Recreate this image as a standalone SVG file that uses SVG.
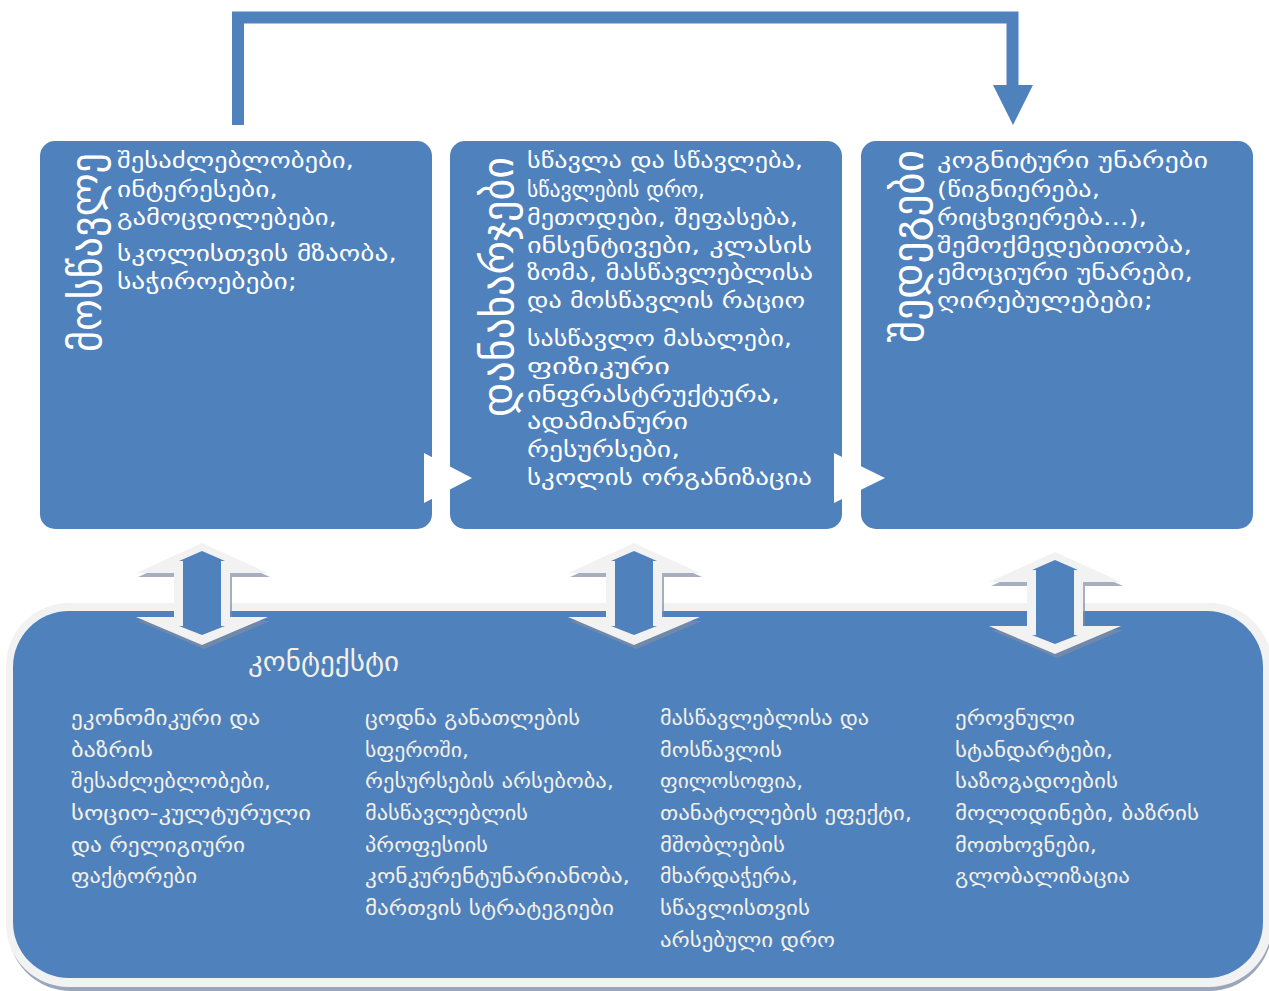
<svg xmlns="http://www.w3.org/2000/svg" xmlns:xlink="http://www.w3.org/1999/xlink" width="1269" height="991" viewBox="0 0 1269 991">
<style>
.box{fill:#4F81BD}
.t{font-family:"DejaVu Sans",sans-serif;font-size:22px;fill:#FFFFFF}
.ttl{font-family:"DejaVu Sans",sans-serif;font-size:44px;fill:#FFFFFF}
.b{font-family:"DejaVu Sans",sans-serif;font-size:20px;fill:#F3F0E6}
.bt{font-family:"DejaVu Sans",sans-serif;font-size:27px;fill:#F3F0E6}
.conn{fill:none;stroke:#4F81BD;stroke-width:12;stroke-linejoin:miter}
</style>
<defs>
<g id="dbl">
<polygon points="204,547 270,577 232,577 232,621 270,621 204,649 138,621 176,621 176,577 138,577" fill="#7F8DA4" opacity="0.7"/>
<polygon points="202,543 268,573 230,573 230,617 268,617 202,645 136,617 174,617 174,573 136,573" fill="#F2F2F2"/>
<polygon points="202,551 225,561 221,561 221,626 225,626 202,635 179,626 183,626 183,561 179,561" fill="#4F81BD"/>
</g>
</defs>
<rect width="1269" height="991" fill="#FFFFFF"/>

<g id="node-student">
<rect class="box" x="40" y="141" width="392" height="388" rx="15"/>
<text class="ttl" transform="translate(101,352) rotate(-90)" textLength="199" lengthAdjust="spacingAndGlyphs">მოსწავლე</text>
<text class="t" x="117" y="168" textLength="237" lengthAdjust="spacingAndGlyphs">შესაძლებლობები,</text>
<text class="t" x="117" y="197" textLength="161" lengthAdjust="spacingAndGlyphs">ინტერესები,</text>
<text class="t" x="117" y="225" textLength="220" lengthAdjust="spacingAndGlyphs">გამოცდილებები,</text>
<text class="t" x="117" y="261" textLength="280" lengthAdjust="spacingAndGlyphs">სკოლისთვის მზაობა,</text>
<text class="t" x="117" y="289" textLength="180" lengthAdjust="spacingAndGlyphs">საჭიროებები;</text>
</g>

<g id="node-costs">
<rect class="box" x="450" y="141" width="392" height="388" rx="15"/>
<text class="ttl" transform="translate(513,417) rotate(-90)" textLength="260" lengthAdjust="spacingAndGlyphs">დანახარჯები</text>
<text class="t" x="527" y="168" textLength="276" lengthAdjust="spacingAndGlyphs">სწავლა და სწავლება,</text>
<text class="t" x="527" y="197" textLength="178" lengthAdjust="spacingAndGlyphs">სწავლების დრო,</text>
<text class="t" x="527" y="225" textLength="271" lengthAdjust="spacingAndGlyphs">მეთოდები, შეფასება,</text>
<text class="t" x="527" y="253" textLength="285" lengthAdjust="spacingAndGlyphs">ინსენტივები, კლასის</text>
<text class="t" x="527" y="280" textLength="286" lengthAdjust="spacingAndGlyphs">ზომა, მასწავლებლისა</text>
<text class="t" x="527" y="308" textLength="278" lengthAdjust="spacingAndGlyphs">და მოსწავლის რაციო</text>
<text class="t" x="527" y="346" textLength="265" lengthAdjust="spacingAndGlyphs">სასწავლო მასალები,</text>
<text class="t" x="527" y="374" textLength="143" lengthAdjust="spacingAndGlyphs">ფიზიკური</text>
<text class="t" x="527" y="402" textLength="253" lengthAdjust="spacingAndGlyphs">ინფრასტრუქტურა,</text>
<text class="t" x="527" y="429" textLength="161" lengthAdjust="spacingAndGlyphs">ადამიანური</text>
<text class="t" x="527" y="457" textLength="153" lengthAdjust="spacingAndGlyphs">რესურსები,</text>
<text class="t" x="527" y="485" textLength="285" lengthAdjust="spacingAndGlyphs">სკოლის ორგანიზაცია</text>
</g>

<g id="node-results">
<rect class="box" x="861" y="141" width="392" height="388" rx="15"/>
<text class="ttl" transform="translate(923,343) rotate(-90)" textLength="193" lengthAdjust="spacingAndGlyphs">შედეგები</text>
<text class="t" x="937" y="168" textLength="271" lengthAdjust="spacingAndGlyphs">კოგნიტური უნარები</text>
<text class="t" x="937" y="197" textLength="163" lengthAdjust="spacingAndGlyphs">(წიგნიერება,</text>
<text class="t" x="937" y="225" textLength="210" lengthAdjust="spacingAndGlyphs">რიცხვიერება...),</text>
<text class="t" x="937" y="253" textLength="255" lengthAdjust="spacingAndGlyphs">შემოქმედებითობა,</text>
<text class="t" x="937" y="280" textLength="256" lengthAdjust="spacingAndGlyphs">ემოციური უნარები,</text>
<text class="t" x="937" y="308" textLength="216" lengthAdjust="spacingAndGlyphs">ღირებულებები;</text>
</g>

<g id="node-context">
<rect x="8" y="607" width="1264" height="384" rx="63" fill="#9AA6BA"/>
<rect x="6" y="603" width="1266" height="384" rx="63" fill="#F2F2F2"/>
<rect class="box" x="13" y="611" width="1250" height="367" rx="56"/>
<text class="bt" x="248" y="671" textLength="151" lengthAdjust="spacingAndGlyphs">კონტექსტი</text>
<text class="b" x="71" y="725" textLength="189" lengthAdjust="spacingAndGlyphs">ეკონომიკური და</text>
<text class="b" x="71" y="757" textLength="82" lengthAdjust="spacingAndGlyphs">ბაზრის</text>
<text class="b" x="71" y="788" textLength="200" lengthAdjust="spacingAndGlyphs">შესაძლებლობები,</text>
<text class="b" x="71" y="820" textLength="240" lengthAdjust="spacingAndGlyphs">სოციო-კულტურული</text>
<text class="b" x="71" y="852" textLength="174" lengthAdjust="spacingAndGlyphs">და რელიგიური</text>
<text class="b" x="71" y="883" textLength="126" lengthAdjust="spacingAndGlyphs">ფაქტორები</text>

<text class="b" x="365" y="725" textLength="215" lengthAdjust="spacingAndGlyphs">ცოდნა განათლების</text>
<text class="b" x="365" y="757" textLength="104" lengthAdjust="spacingAndGlyphs">სფეროში,</text>
<text class="b" x="365" y="788" textLength="249" lengthAdjust="spacingAndGlyphs">რესურსების არსებობა,</text>
<text class="b" x="365" y="820" textLength="163" lengthAdjust="spacingAndGlyphs">მასწავლებლის</text>
<text class="b" x="365" y="852" textLength="123" lengthAdjust="spacingAndGlyphs">პროფესიის</text>
<text class="b" x="365" y="883" textLength="265" lengthAdjust="spacingAndGlyphs">კონკურენტუნარიანობა,</text>
<text class="b" x="365" y="915" textLength="249" lengthAdjust="spacingAndGlyphs">მართვის სტრატეგიები</text>

<text class="b" x="660" y="725" textLength="209" lengthAdjust="spacingAndGlyphs">მასწავლებლისა და</text>
<text class="b" x="660" y="757" textLength="122" lengthAdjust="spacingAndGlyphs">მოსწავლის</text>
<text class="b" x="660" y="788" textLength="143" lengthAdjust="spacingAndGlyphs">ფილოსოფია,</text>
<text class="b" x="660" y="820" textLength="252" lengthAdjust="spacingAndGlyphs">თანატოლების ეფექტი,</text>
<text class="b" x="660" y="852" textLength="125" lengthAdjust="spacingAndGlyphs">მშობლების</text>
<text class="b" x="660" y="883" textLength="138" lengthAdjust="spacingAndGlyphs">მხარდაჭერა,</text>
<text class="b" x="660" y="915" textLength="150" lengthAdjust="spacingAndGlyphs">სწავლისთვის</text>
<text class="b" x="660" y="947" textLength="175" lengthAdjust="spacingAndGlyphs">არსებული დრო</text>

<text class="b" x="955" y="725" textLength="120" lengthAdjust="spacingAndGlyphs">ეროვნული</text>
<text class="b" x="955" y="757" textLength="158" lengthAdjust="spacingAndGlyphs">სტანდარტები,</text>
<text class="b" x="955" y="788" textLength="163" lengthAdjust="spacingAndGlyphs">საზოგადოების</text>
<text class="b" x="955" y="820" textLength="244" lengthAdjust="spacingAndGlyphs">მოლოდინები, ბაზრის</text>
<text class="b" x="955" y="852" textLength="142" lengthAdjust="spacingAndGlyphs">მოთხოვნები,</text>
<text class="b" x="955" y="883" textLength="175" lengthAdjust="spacingAndGlyphs">გლობალიზაცია</text>
</g>

<g id="connectors">
<path class="conn" d="M238,125 V17.5 H1012.5 V88"/>
<polygon points="993,85 1033,85 1013,125" fill="#4F81BD"/>
<polygon points="424,453 472,478 424,503" fill="#FFFFFF"/>
<polygon points="834,453 885,478 834,503" fill="#FFFFFF"/>
<use xlink:href="#dbl"/>
<use xlink:href="#dbl" transform="translate(432,0)"/>
<use xlink:href="#dbl" transform="translate(853,9)"/>
</g>
</svg>
